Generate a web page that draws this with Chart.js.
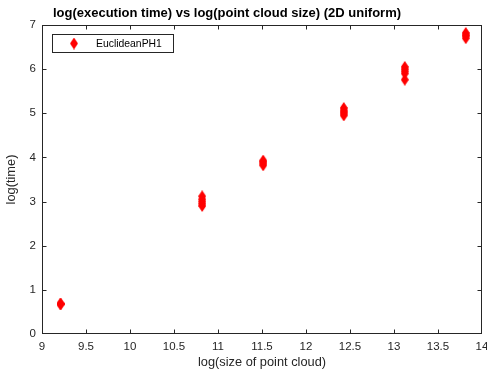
<!DOCTYPE html>
<html>
<head>
<meta charset="utf-8">
<script src="https://cdn.jsdelivr.net/npm/chart.js@4.4.0/dist/chart.umd.min.js"></script>
<style>
html, body { margin: 0; padding: 0; background: #fff; }
#wrap { width: 487px; height: 371px; position: relative; }
</style>
</head>
<body>
<div id="wrap"><canvas id="chart1"></canvas></div>
<script>
const titleText = 'log(execution time) vs log(point cloud size) (2D uniform)';
const xLabel = 'log(size of point cloud)';
const yLabel = 'log(time)';
const seriesName = 'EuclideanPH1';

// log of point cloud sizes (10k, 50k, 100k, 250k, 500k, 1M)
const logSizes = [9.2103, 10.8198, 11.5129, 12.4292, 13.1224, 13.8155];
// log(time) of the repeated runs, one array per size
const times1 = [0.67, 0.68, 0.69];
const times2 = [2.90, 2.95, 3.00, 3.05, 3.12];
const times3 = [3.82, 3.86, 3.90, 3.93];
const times4 = [4.95, 4.99, 5.03, 5.07, 5.12];
const times5 = [5.76, 5.90, 5.95, 6.00, 6.05];
const times6 = [6.70, 6.75, 6.78, 6.82];
const allTimes = [times1, times2, times3, times4, times5, times6];

const xTicks = [9, 9.5, 10, 10.5, 11, 11.5, 12, 12.5, 13, 13.5, 14];
const yTicks = [0, 1, 2, 3, 4, 5, 6, 7];

const points = [];
logSizes.forEach((s, i) => {
    allTimes[i].forEach(t => points.push({ x: s, y: t }));
});

const fontFam = "'Liberation Sans', Arial, Helvetica, sans-serif";
const axisColor = '#262626';
const red = '#ff0000';

function diamond(w, h, color) {
    const c = document.createElement('canvas');
    c.width = w; c.height = h;
    const g = c.getContext('2d');
    g.fillStyle = color;
    g.beginPath();
    g.moveTo(w / 2, 0);
    g.lineTo(w, h / 2);
    g.lineTo(w / 2, h);
    g.lineTo(0, h / 2);
    g.closePath();
    g.fill();
    return c;
}
const marker = diamond(8, 12, red);

// box around the axes with inward ticks, like matlab
const boxPlugin = {
    id: 'box',
    afterDatasetsDraw(chart) {
        const { ctx, chartArea: a, scales } = chart;
        const L = Math.round(a.left) + 0.5, R = Math.round(a.right) - 0.5;
        const T = Math.round(a.top) + 0.5, B = Math.round(a.bottom) - 0.5;
        ctx.save();
        ctx.strokeStyle = axisColor;
        ctx.lineWidth = 1;
        ctx.strokeRect(L, T, R - L, B - T);
        ctx.beginPath();
        xTicks.forEach(v => {
            const px = Math.min(R, Math.max(L, Math.round(scales.x.getPixelForValue(v)) + 0.5));
            ctx.moveTo(px, B); ctx.lineTo(px, B - 4);
            ctx.moveTo(px, T); ctx.lineTo(px, T + 4);
        });
        yTicks.forEach(v => {
            const py = Math.min(B, Math.max(T, Math.round(scales.y.getPixelForValue(v)) + 0.5));
            ctx.moveTo(L, py); ctx.lineTo(L + 4, py);
            ctx.moveTo(R, py); ctx.lineTo(R - 4, py);
        });
        ctx.stroke();
        ctx.restore();
    },
    afterDraw(chart) {
        const ctx = chart.ctx;
        ctx.save();
        // title
        ctx.fillStyle = '#000';
        ctx.font = 'bold 13px ' + fontFam;
        ctx.textAlign = 'center';
        ctx.textBaseline = 'middle';
        ctx.fillText(titleText, 227, 13);
        // legend
        ctx.fillStyle = '#fff';
        ctx.fillRect(52.5, 34.5, 121, 18);
        ctx.strokeStyle = axisColor;
        ctx.strokeRect(52.5, 34.5, 121, 18);
        ctx.drawImage(marker, 74 - 4, 43.5 - 6);
        ctx.fillStyle = '#000';
        ctx.font = '10.4px ' + fontFam;
        ctx.textAlign = 'left';
        ctx.fillText(seriesName, 96, 44);
        ctx.restore();
    }
};

const ctx1 = document.getElementById('chart1');
new Chart(ctx1, {
    type: 'scatter',
    data: {
        datasets: [{
            label: seriesName,
            data: points,
            pointStyle: marker,
            backgroundColor: red,
            borderColor: red
        }]
    },
    options: {
        responsive: true,
        maintainAspectRatio: false,
        animation: false,
        events: [],
        layout: { padding: { top: 25, right: 5, left: 0, bottom: 0 } },
        scales: {
            x: {
                type: 'linear',
                min: 9, max: 14,
                afterBuildTicks: s => { s.ticks = xTicks.map(v => ({ value: v })); },
                afterFit: s => { s.height = 37; s.paddingLeft = 0; s.paddingRight = 0; },
                grid: { display: false, drawTicks: false },
                border: { display: false },
                ticks: { color: axisColor, padding: 6, maxRotation: 0, autoSkip: false,
                         callback: v => String(v), font: { family: fontFam, size: 11.5 } },
                title: { display: true, text: xLabel, color: axisColor, padding: { top: 0, bottom: 1 }, font: { family: fontFam, size: 12.8 } }
            },
            y: {
                type: 'linear',
                min: 0, max: 7,
                afterBuildTicks: s => { s.ticks = yTicks.map(v => ({ value: v })); },
                afterFit: s => { s.width = 42; s.paddingTop = 0; s.paddingBottom = 0; },
                grid: { display: false, drawTicks: false },
                border: { display: false },
                ticks: { color: axisColor, padding: 6, callback: v => String(v), font: { family: fontFam, size: 11.5 } },
                title: { display: true, text: yLabel, color: axisColor, padding: { top: 4, bottom: 0 }, font: { family: fontFam, size: 12.8 } }
            }
        },
        plugins: {
            legend: { display: false },
            title: { display: false },
            tooltip: { enabled: false }
        }
    },
    plugins: [boxPlugin]
});
</script>
</body>
</html>
